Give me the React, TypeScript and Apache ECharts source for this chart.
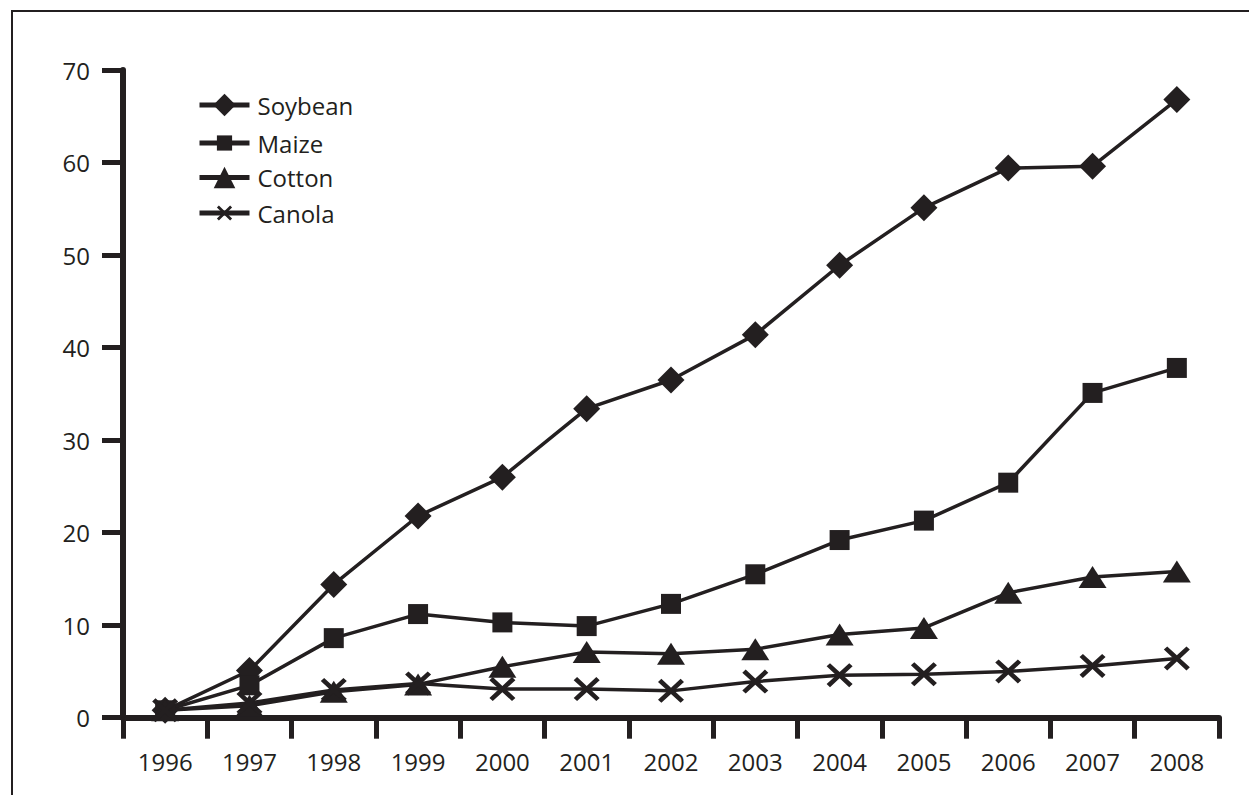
import React, { useEffect, useRef } from "react";
import * as echarts from "echarts";

const years = ["1996", "1997", "1998", "1999", "2000", "2001", "2002", "2003", "2004", "2005", "2006", "2007", "2008"];
const soybean = [0.8, 5.1, 14.4, 21.8, 26.0, 33.4, 36.5, 41.4, 48.9, 55.1, 59.4, 59.6, 66.8];
const maize = [0.8, 3.5, 8.6, 11.2, 10.3, 9.9, 12.3, 15.5, 19.2, 21.3, 25.4, 35.1, 37.8];
const cotton = [0.8, 1.3, 2.8, 3.6, 5.5, 7.1, 6.9, 7.4, 9.0, 9.7, 13.5, 15.2, 15.8];
const canola = [0.8, 1.6, 3.0, 3.7, 3.1, 3.1, 2.9, 3.9, 4.6, 4.7, 5.0, 5.6, 6.4];
const seriesNames = ["Soybean", "Maize", "Cotton", "Canola"];
const yTicks = [0, 10, 20, 30, 40, 50, 60, 70];

const INK = "#231f20";
const FONT = "Open Sans";
const crossPath =
  "path://M0,13L13,0L50,37L87,0L100,13L63,50L100,87L87,100L50,63L13,100L0,87L37,50Z";

export default function App() {
  const ref = useRef<HTMLDivElement>(null);
  useEffect(() => {
    if (!ref.current) return;
    const chart = echarts.init(ref.current, undefined, { renderer: "svg" });
    const mk = (name: string, data: number[], symbol: string, size: any) => ({
      name,
      type: "line",
      data,
      symbol,
      symbolSize: size,
      showAllSymbol: true,
      lineStyle: { color: INK, width: 3.5 },
      itemStyle: { color: INK, borderColor: INK, borderWidth: 0, opacity: 1 },
      emphasis: { disabled: true },
    });
    const legendIconH = [28, 19, 27, 19];
    const legendCentres = [107, 143, 179, 213];
    const legends = seriesNames.map((name, i) => ({
      left: 197,
      top: legendCentres[i] - Math.max(legendIconH[i], 24) / 2,
      padding: 0,
      orient: "vertical",
      itemWidth: 50,
      itemHeight: legendIconH[i],
      lineStyle: { width: 5, color: INK, opacity: 1 },
      textStyle: { fontFamily: FONT, fontSize: 24, color: INK, lineHeight: 24, padding: [0, 0, 0, 3] },
      data: [name],
      selectedMode: false,
    }));
    chart.setOption({
      animation: false,
      backgroundColor: "#ffffff",
      graphic: [
        {
          type: "rect",
          shape: { x: 12, y: 11, width: 1300, height: 900 },
          style: { fill: "none", stroke: INK, lineWidth: 2 },
          silent: true,
        },
      ],
      legend: legends,
      grid: { left: 123, right: 30, top: 70, bottom: 77.3, containLabel: false },
      xAxis: {
        type: "category",
        data: years,
        boundaryGap: true,
        axisLine: { show: true, lineStyle: { color: INK, width: 6 } },
        axisTick: { show: true, alignWithLabel: false, length: 21, lineStyle: { color: INK, width: 5 } },
        axisLabel: { fontFamily: FONT, fontSize: 24, color: INK, margin: 32, interval: 0 },
        splitLine: { show: false },
      },
      yAxis: {
        type: "value",
        min: yTicks[0],
        max: yTicks[yTicks.length - 1],
        interval: 10,
        axisLine: { show: true, lineStyle: { color: INK, width: 6 } },
        axisTick: { show: true, length: 21, lineStyle: { color: INK, width: 5 } },
        axisLabel: { fontFamily: FONT, fontSize: 24, color: INK, margin: 33 },
        splitLine: { show: false },
      },
      series: [
        mk("Soybean", soybean, "diamond", 27),
        mk("Maize", maize, "rect", 20),
        mk("Cotton", cotton, "triangle", [28, 22]),
        mk("Canola", canola, crossPath, [26, 24]),
      ],
    });
    return () => chart.dispose();
  }, []);
  return (
    <div
      ref={ref}
      style={{ position: "fixed", left: 0, top: 0, width: 1249, height: 795, background: "#fff" }}
    />
  );
}
